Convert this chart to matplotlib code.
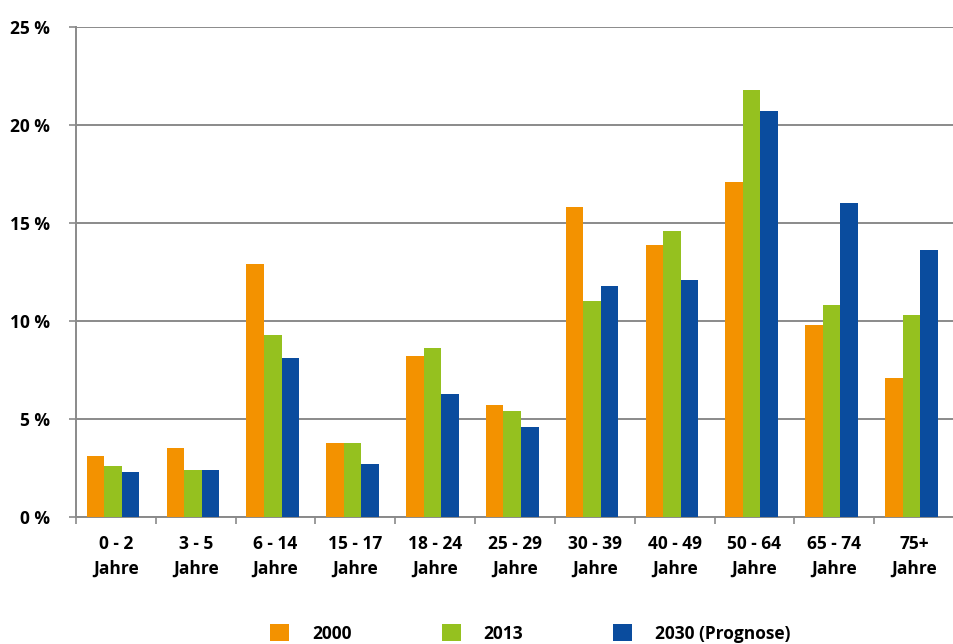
import numpy as np
import matplotlib.pyplot as plt

# Altersgruppen und Anteile in %
groups = ['0 - 2\nJahre', '3 - 5\nJahre', '6 - 14\nJahre', '15 - 17\nJahre',
          '18 - 24\nJahre', '25 - 29\nJahre', '30 - 39\nJahre', '40 - 49\nJahre',
          '50 - 64\nJahre', '65 - 74\nJahre', '75+\nJahre']
y2000 = [3.1, 3.5, 12.9, 3.8, 8.2, 5.7, 15.8, 13.9, 17.1, 9.8, 7.1]
y2013 = [2.6, 2.4, 9.3, 3.8, 8.6, 5.4, 11.0, 14.6, 21.8, 10.8, 10.3]
y2030 = [2.3, 2.4, 8.1, 2.7, 6.3, 4.6, 11.8, 12.1, 20.7, 16.0, 13.6]
series_labels = ['2000', '2013', '2030 (Prognose)']
yticks = [0, 5, 10, 15, 20, 25]

colors = ['#F39200', '#95C11F', '#0A4C9E']

plt.rcParams['font.family'] = ['Open Sans', 'DejaVu Sans']
plt.rcParams['font.weight'] = 'bold'

fig = plt.figure(figsize=(9.54, 6.44), dpi=100)
ax = fig.add_axes([76 / 954, (644 - 517) / 644, (954 - 76) / 954, 490 / 644])

x = np.arange(len(groups))
w = 0.22
for i, (vals, c, lab) in enumerate(zip([y2000, y2013, y2030], colors, series_labels)):
    ax.bar(x + (i - 1) * w - 0.035, vals, width=w, color=c, label=lab, zorder=3)

ax.set_xlim(-0.5, 10.43)
ax.set_ylim(0, 25)
ax.set_yticks(yticks)
ax.set_yticklabels([f'{t} %' for t in yticks], fontsize=12.5, fontweight='bold')
ax.yaxis.grid(True, color='#8a8a8a', linewidth=1.4, zorder=0)

ax.set_xticks(x)
ax.set_xticklabels(groups, fontsize=12.5, fontweight='bold', linespacing=1.45)
ax.set_xticks(np.arange(-0.5, 11, 1), minor=True)
ax.tick_params(axis='x', which='major', length=0, pad=13)
ax.tick_params(axis='x', which='minor', length=5, color='#8a8a8a', width=1.2)
ax.tick_params(axis='y', length=5, color='#8a8a8a', width=1.2, pad=14)

for s in ['top', 'right']:
    ax.spines[s].set_visible(False)
for s in ['left', 'bottom']:
    ax.spines[s].set_color('#8a8a8a')
    ax.spines[s].set_linewidth(1.4)

fig.legend(loc='lower center', bbox_to_anchor=(0.556, -0.022), ncol=3, frameon=False,
           fontsize=12.5, handlelength=1.1, handleheight=1.1, columnspacing=5.2,
           handletextpad=1.3)

plt.savefig('out.png', dpi=100)
